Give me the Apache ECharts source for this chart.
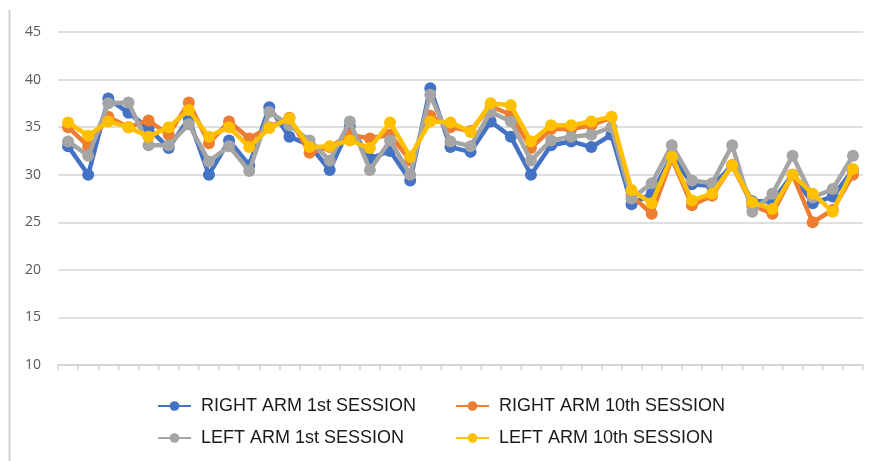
<!DOCTYPE html>
<html>
<head>
<meta charset="utf-8">
<script src="https://cdn.jsdelivr.net/npm/echarts@6/dist/echarts.min.js"></script>
<style>
html,body{margin:0;padding:0;background:#fff;}
#chart{width:872px;height:461px;}
</style>
</head>
<body>
<div id="chart"></div>
<script>
// Categories: 40 unlabeled sample points
const categories = Array.from({length: 40}, (_, i) => String(i + 1));

const seriesNames = [
  "RIGHT ARM 1st SESSION",
  "RIGHT ARM 10th SESSION",
  "LEFT ARM 1st SESSION",
  "LEFT ARM 10th SESSION"
];

const rightArm1st = [33, 30, 38, 36.5, 34.9, 32.8, 35.9, 30, 33.6, 31,
                     37.1, 34, 33.1, 30.5, 35.1, 31.7, 32.5, 29.4, 39.1, 32.9,
                     32.4, 35.6, 34, 30, 33.1, 33.5, 32.9, 34.2, 26.9, 28,
                     32, 29, 28.8, 31, 27.2, 27.2, 30, 27, 27.7, 30.5];

const rightArm10th = [35, 33, 36.1, 35, 35.7, 34.2, 37.6, 33.3, 35.6, 33.8,
                      35, 36, 32.3, 32.9, 34.2, 33.8, 34.2, 31.5, 36.2, 35,
                      34.6, 37.2, 36.3, 32.8, 34.8, 34.8, 35.2, 36, 27.8, 25.9,
                      31.7, 26.8, 27.8, 31, 26.8, 25.9, 30, 25, 26.3, 30];

const leftArm1st = [33.5, 32, 37.5, 37.6, 33.1, 33.1, 35.3, 31.4, 33, 30.4,
                    36.6, 35.2, 33.6, 31.5, 35.6, 30.5, 33.6, 30, 38.4, 33.5,
                    33, 36.6, 35.6, 31.5, 33.6, 34, 34.2, 35, 27.5, 29.1,
                    33.1, 29.4, 29.1, 33.1, 26.1, 28, 32, 27.6, 28.5, 32];

const leftArm10th = [35.5, 34.1, 35.6, 35, 34, 35, 36.8, 34, 35, 32.9,
                     34.9, 35.9, 32.9, 33, 33.6, 32.8, 35.5, 31.9, 35.6, 35.5,
                     34.5, 37.5, 37.3, 33.5, 35.2, 35.2, 35.6, 36.1, 28.4, 27,
                     31.9, 27.3, 28, 31, 27.1, 26.4, 30, 28, 26.1, 30.6];

const yTicks = {min: 10, max: 45, interval: 5};

const colors = ["#4472C4", "#ED7D31", "#A5A5A5", "#FFC000"];
const dataSets = [rightArm1st, rightArm10th, leftArm1st, leftArm10th];

const chart = echarts.init(document.getElementById('chart'), null, {renderer: 'canvas'});

const legendPos = [
  {left: 157, top: 397},
  {left: 455, top: 397},
  {left: 157, top: 429},
  {left: 455, top: 429}
];

const option = {
  animation: false,
  backgroundColor: '#ffffff',
  color: colors,
  grid: {left: 58, right: 9, top: 32, bottom: 96, containLabel: false},
  graphic: [{
    type: 'line',
    shape: {x1: 9.5, y1: 10, x2: 9.5, y2: 461},
    style: {stroke: '#d0d0d0', lineWidth: 2}
  }],
  legend: seriesNames.map((n, i) => ({
    data: [n],
    left: legendPos[i].left,
    top: legendPos[i].top,
    padding: 0,
    itemWidth: 33,
    itemHeight: 12,
    itemGap: 10,
    textStyle: {fontFamily: 'Liberation Sans, Arial, sans-serif', fontSize: 18, color: '#1a1a1a', padding: [0, 0, 0, 5]},
    selectedMode: false
  })),
  xAxis: {
    type: 'category',
    data: categories,
    boundaryGap: true,
    axisLine: {lineStyle: {color: '#d4d4d4', width: 1.5}},
    axisTick: {show: true, length: 5, lineStyle: {color: '#d4d4d4', width: 1.5}},
    axisLabel: {show: false},
    splitLine: {show: false}
  },
  yAxis: {
    type: 'value',
    min: yTicks.min,
    max: yTicks.max,
    interval: yTicks.interval,
    axisLine: {show: false},
    axisTick: {show: false},
    axisLabel: {
      margin: 17,
      color: '#595959',
      fontSize: 14,
      fontFamily: 'Open Sans, Liberation Sans, sans-serif'
    },
    splitLine: {lineStyle: {color: '#d4d4d4', width: 1.5}}
  },
  series: seriesNames.map((n, i) => ({
    name: n,
    type: 'line',
    data: dataSets[i],
    symbol: 'circle',
    symbolSize: 12,
    lineStyle: {width: 4.5, color: colors[i]},
    itemStyle: {color: colors[i]},
    z: 2 + i
  }))
};

chart.setOption(option);
</script>
</body>
</html>
